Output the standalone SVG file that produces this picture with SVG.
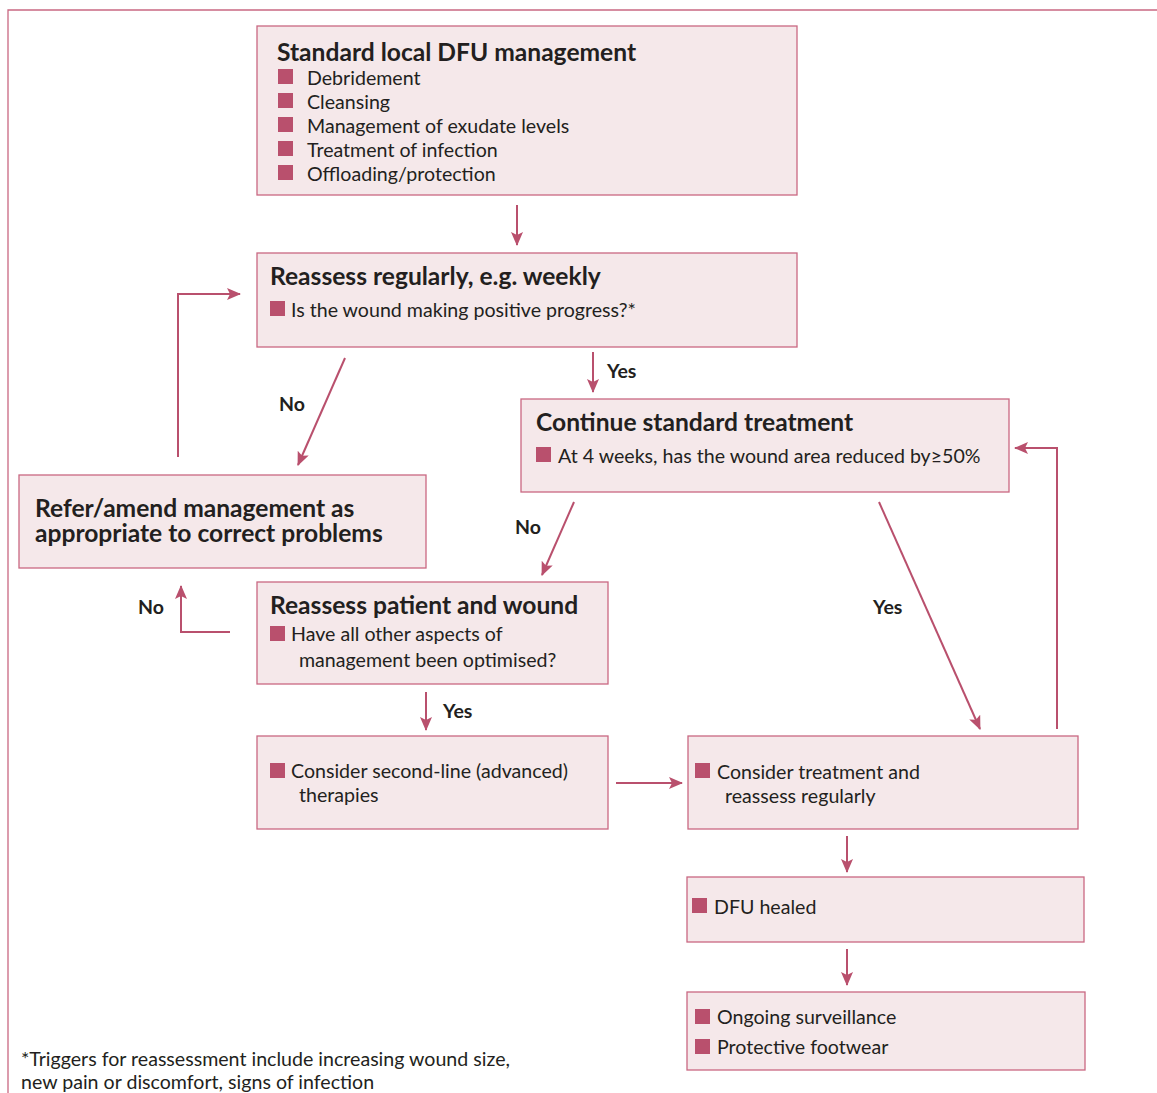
<svg xmlns="http://www.w3.org/2000/svg" width="1157" height="1093" viewBox="0 0 1157 1093">
<style>
.box{fill:#f5e8ea;stroke:#c96882;stroke-width:1.3}
.b{fill:#b9506d}
.t{font-family:Lato,"Noto Sans",sans-serif;font-size:19.6px;fill:#231f20}
.h{font-family:Lato,"Noto Sans",sans-serif;font-size:24.6px;font-weight:bold;fill:#231f20}
.l{font-family:Lato,"Noto Sans",sans-serif;font-size:19.5px;font-weight:bold;fill:#231f20}
.c{fill:none;stroke:#b9506d;stroke-width:2;marker-end:url(#ah)}
</style>
<defs>
<marker id="ah" markerUnits="userSpaceOnUse" markerWidth="14" markerHeight="12" refX="13" refY="6" orient="auto">
<path d="M0,0 L14,6 L0,12 L3,6 z" fill="#b9506d"/>
</marker>
</defs>
<rect width="1157" height="1093" fill="#fff"/>
<path d="M8,1093 V10 H1157" fill="none" stroke="#c96882" stroke-width="1.3"/>

<g id="n1">
<rect class="box" x="257" y="26" width="540" height="169"/>
<text class="h" x="277" y="61">Standard local DFU management</text>
<rect class="b" x="278" y="69" width="15" height="15"/><text class="t" x="307" y="85">Debridement</text>
<rect class="b" x="278" y="93" width="15" height="15"/><text class="t" x="307" y="109">Cleansing</text>
<rect class="b" x="278" y="117" width="15" height="15"/><text class="t" x="307" y="133">Management of exudate levels</text>
<rect class="b" x="278" y="141" width="15" height="15"/><text class="t" x="307" y="157">Treatment of infection</text>
<rect class="b" x="278" y="165" width="15" height="15"/><text class="t" x="307" y="181">Offloading/protection</text>
</g>

<g id="n2">
<rect class="box" x="257" y="253" width="540" height="94"/>
<text class="h" x="270" y="285">Reassess regularly, e.g. weekly</text>
<rect class="b" x="270" y="301" width="15" height="15"/><text class="t" x="291" y="317">Is the wound making positive progress?*</text>
</g>

<g id="n3">
<rect class="box" x="521" y="399" width="488" height="93"/>
<text class="h" x="536" y="431">Continue standard treatment</text>
<rect class="b" x="536" y="447" width="15" height="15"/><text class="t" x="558" y="463">At 4 weeks, has the wound area reduced by≥50%</text>
</g>

<g id="n4">
<rect class="box" x="19" y="475" width="407" height="93"/>
<text class="h" x="35" y="517">Refer/amend management as<tspan x="35" y="542">appropriate to correct problems</tspan></text>
</g>

<g id="n5">
<rect class="box" x="257" y="582" width="351" height="102"/>
<text class="h" x="270" y="614">Reassess patient and wound</text>
<rect class="b" x="270" y="626" width="15" height="15"/><text class="t" x="291" y="641">Have all other aspects of</text>
<text class="t" x="299" y="667">management been optimised?</text>
</g>

<g id="n6">
<rect class="box" x="257" y="736" width="351" height="93"/>
<rect class="b" x="270" y="763" width="15" height="15"/><text class="t" x="291" y="778">Consider second-line (advanced)</text>
<text class="t" x="299" y="802">therapies</text>
</g>

<g id="n7">
<rect class="box" x="688" y="736" width="390" height="93"/>
<rect class="b" x="695" y="763" width="15" height="15"/><text class="t" x="717" y="779">Consider treatment and</text>
<text class="t" x="725" y="803">reassess regularly</text>
</g>

<g id="n8">
<rect class="box" x="687" y="877" width="397" height="65"/>
<rect class="b" x="692" y="898" width="15" height="15"/><text class="t" x="714" y="914">DFU healed</text>
</g>

<g id="n9">
<rect class="box" x="687" y="992" width="398" height="78"/>
<rect class="b" x="695" y="1009" width="15" height="15"/><text class="t" x="717" y="1024">Ongoing surveillance</text>
<rect class="b" x="695" y="1039" width="15" height="15"/><text class="t" x="717" y="1054">Protective footwear</text>
</g>

<g id="connectors">
<path class="c" d="M517,205 V245"/>
<path class="c" d="M593,352 V392"/>
<path class="c" d="M345,358 L298,465"/>
<path class="c" d="M178,457 V294 H240"/>
<path class="c" d="M574,502 L542,575"/>
<path class="c" d="M230,632 H181 V586"/>
<path class="c" d="M426,692 V730"/>
<path class="c" d="M616,783 H682"/>
<path class="c" d="M879,502 L980,729"/>
<path class="c" d="M1057,729 V448 H1015"/>
<path class="c" d="M847,836 V872"/>
<path class="c" d="M847,949 V985"/>
<text class="l" x="607" y="378">Yes</text>
<text class="l" x="279" y="411">No</text>
<text class="l" x="515" y="534">No</text>
<text class="l" x="138" y="614">No</text>
<text class="l" x="443" y="718">Yes</text>
<text class="l" x="873" y="614">Yes</text>
</g>

<text class="t" x="21" y="1066">*Triggers for reassessment include increasing wound size,<tspan x="21" y="1089">new pain or discomfort, signs of infection</tspan></text>
</svg>
